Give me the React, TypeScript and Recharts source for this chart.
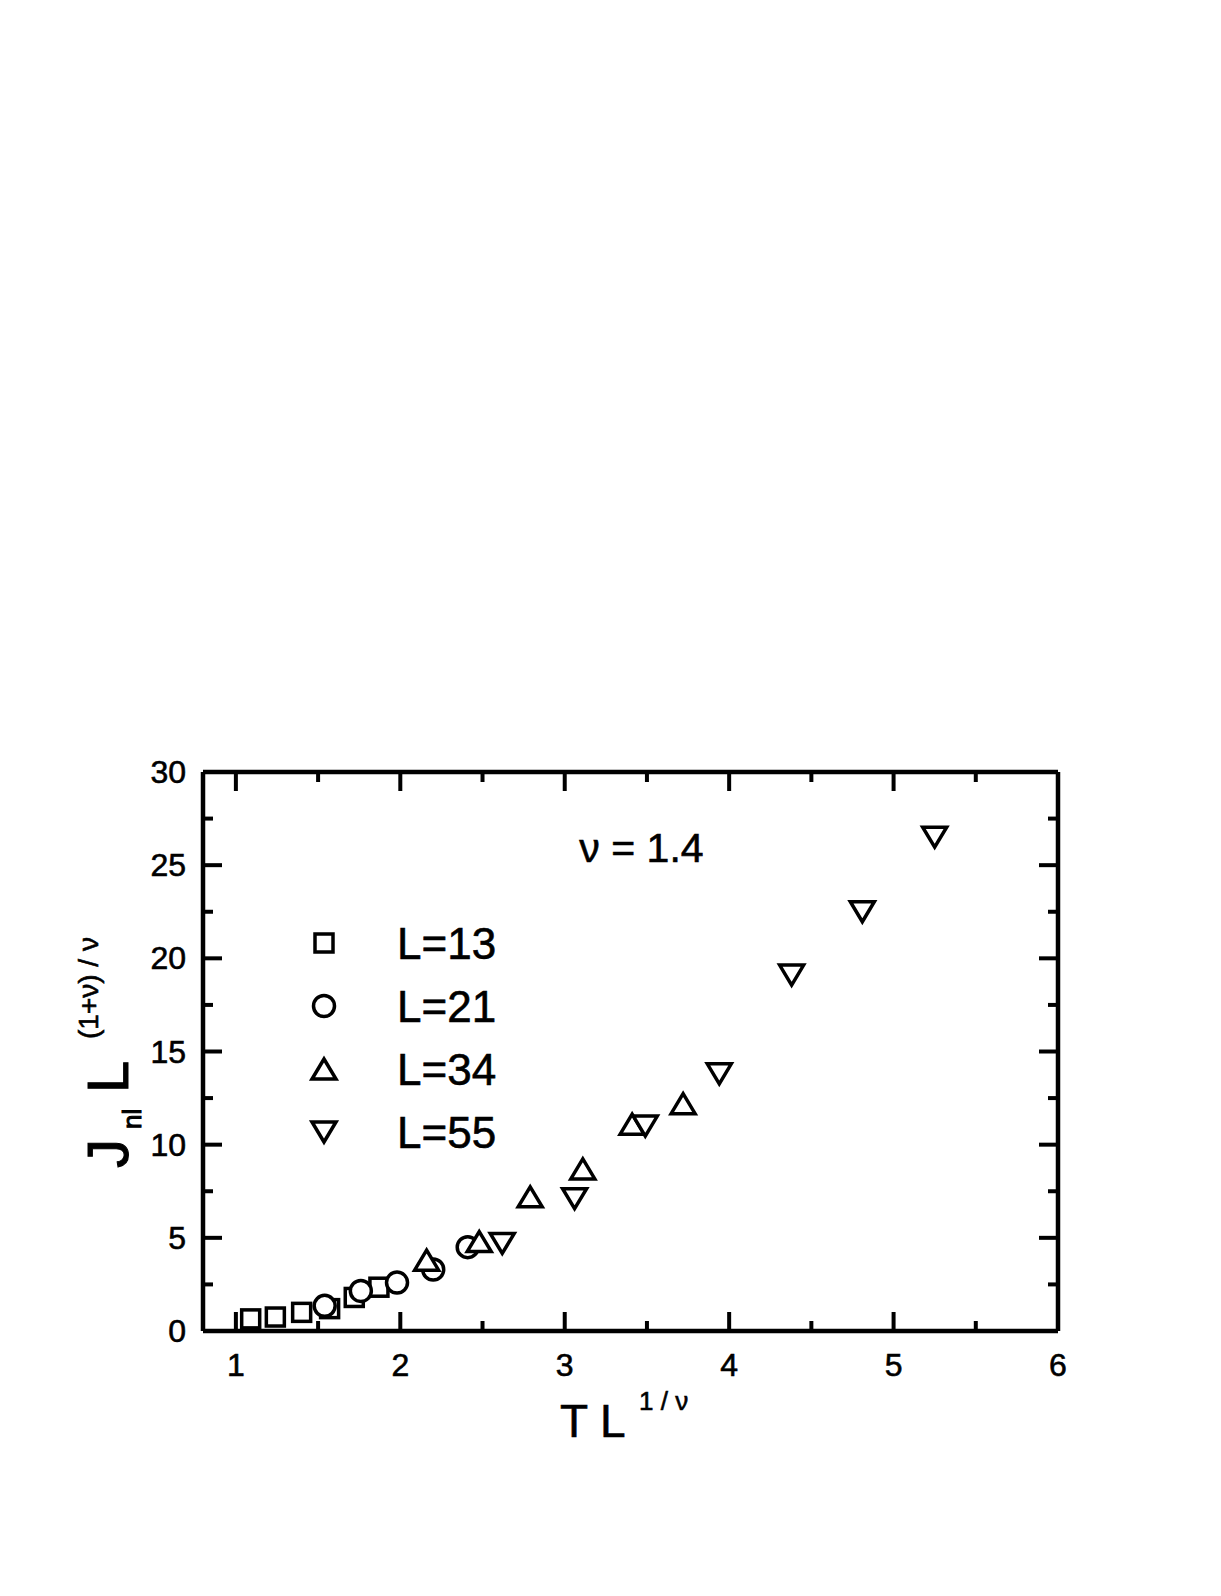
import { Legend, ReferenceDot, Scatter, ScatterChart, XAxis, YAxis } from 'recharts'

// T L^(1/nu) and Jnl L^((1+nu)/nu) for each system size
const L13_X = [1.09, 1.24, 1.4, 1.57, 1.72, 1.87]
const L13_Y = [0.65, 0.75, 1.0, 1.2, 1.8, 2.35]
const L21_X = [1.54, 1.76, 1.98, 2.2, 2.41]
const L21_Y = [1.35, 2.15, 2.6, 3.3, 4.5]
const L34_X = [2.16, 2.48, 2.79, 3.11, 3.41, 3.72]
const L34_Y = [3.8, 4.8, 7.2, 8.7, 11.1, 12.2]
const L55_X = [2.62, 3.06, 3.49, 3.94, 4.38, 4.81, 5.25]
const L55_Y = [4.7, 7.1, 11.0, 13.8, 19.1, 22.5, 26.5]

const X_TICKS = [1, 1.5, 2, 2.5, 3, 3.5, 4, 4.5, 5, 5.5, 6]
const Y_TICKS = [0, 2.5, 5, 7.5, 10, 12.5, 15, 17.5, 20, 22.5, 25, 27.5, 30]

const FONT = '"Liberation Sans", Arial, sans-serif'
// plot box size, used to mirror ticks on the top and right frame
const PLOT_W = 855
const PLOT_H = 559
const MARK_W = 3.5

const toPoints = (xs: number[], ys: number[]) => xs.map((x, i) => ({ x, y: ys[i] }))

const Square = ({ cx, cy }: any) => (
  <rect x={cx - 9} y={cy - 9} width={18} height={18} fill="#fff" stroke="#000" strokeWidth={MARK_W} />
)
const Circle = ({ cx, cy }: any) => (
  <circle cx={cx} cy={cy} r={10.5} fill="#fff" stroke="#000" strokeWidth={MARK_W} />
)
const TriUp = ({ cx, cy }: any) => (
  <polygon
    points={`${cx},${cy - 10} ${cx + 12},${cy + 10} ${cx - 12},${cy + 10}`}
    fill="#fff"
    stroke="#000"
    strokeWidth={MARK_W}
  />
)
const TriDown = ({ cx, cy }: any) => (
  <polygon
    points={`${cx - 12},${cy - 10} ${cx + 12},${cy - 10} ${cx},${cy + 10}`}
    fill="#fff"
    stroke="#000"
    strokeWidth={MARK_W}
  />
)

const SERIES = [
  { name: 'L=13', data: toPoints(L13_X, L13_Y), Shape: Square },
  { name: 'L=21', data: toPoints(L21_X, L21_Y), Shape: Circle },
  { name: 'L=34', data: toPoints(L34_X, L34_Y), Shape: TriUp },
  { name: 'L=55', data: toPoints(L55_X, L55_Y), Shape: TriDown },
]

const isInt = (v: number) => Math.abs(v - Math.round(v)) < 1e-6
const isFive = (v: number) => Math.abs(v / 5 - Math.round(v / 5)) < 1e-6

const textProps = { fontFamily: FONT, fill: '#000', stroke: '#000', strokeWidth: 0.6 }

const BottomTick = ({ x, y, payload }: any) => {
  const len = isInt(payload.value) ? 19 : 10
  const top = y - PLOT_H
  return (
    <g>
      <line x1={x} x2={x} y1={y} y2={y - len} stroke="#000" strokeWidth={4} />
      <line x1={x} x2={x} y1={top} y2={top + len} stroke="#000" strokeWidth={4} />
      {isInt(payload.value) && (
        <text x={x} y={y + 45} textAnchor="middle" fontSize={32} {...textProps}>
          {payload.value}
        </text>
      )}
    </g>
  )
}
const LeftTick = ({ x, y, payload }: any) => {
  const len = isFive(payload.value) ? 19 : 10
  const right = x + PLOT_W
  return (
    <g>
      <line x1={x} x2={x + len} y1={y} y2={y} stroke="#000" strokeWidth={4} />
      <line x1={right} x2={right - len} y1={y} y2={y} stroke="#000" strokeWidth={4} />
      {isFive(payload.value) && (
        <text x={x - 17} y={y + 11} textAnchor="end" fontSize={32} {...textProps}>
          {payload.value}
        </text>
      )}
    </g>
  )
}

const LegendBox = () => (
  <svg width={260} height={250}>
    {SERIES.map((s, i) => {
      const cy = 33 + i * 63
      return (
        <g key={s.name}>
          <s.Shape cx={34} cy={cy} />
          <text x={107} y={cy + 16} fontSize={44} {...textProps}>
            {s.name}
          </text>
        </g>
      )
    })}
  </svg>
)

const XLabel = () => (
  <text x={560} y={1437} fontSize={46} {...textProps}>
    T L
    <tspan x={639} y={1410} fontSize={26}>
      1 / ν
    </tspan>
  </text>
)

const YLabel = () => (
  <text x={128} y={1168} transform="rotate(-90, 128, 1168)" fontSize={58} {...textProps} strokeWidth={1}>
    J
    <tspan x={167} y={1181} fontSize={26}>
      nl
    </tspan>
    <tspan x={203} y={1168} fontSize={58}>
      L
    </tspan>
    <tspan x={257} y={1138} fontSize={28} strokeWidth={0.6}>
      (1+ν) / ν
    </tspan>
  </text>
)

const NuLabel = ({ viewBox }: any) => (
  <text x={viewBox.x + viewBox.width / 2} y={viewBox.y + viewBox.height / 2} fontSize={41} {...textProps}>
    ν = 1.4
  </text>
)

export default function App() {
  return (
    <div style={{ position: 'absolute', left: 0, top: 0, background: '#fff' }}>
      <ScatterChart width={1221} height={1596} margin={{ top: 762, right: 153, bottom: 165, left: 103 }}>
        <XAxis
          dataKey="x"
          type="number"
          domain={[0.8, 6]}
          ticks={X_TICKS}
          interval={0}
          height={100}
          tickSize={0}
          tickMargin={0}
          tick={BottomTick}
          axisLine={{ stroke: '#000', strokeWidth: 4.5 }}
          label={{ content: XLabel }}
        />
        <XAxis
          xAxisId="top"
          orientation="top"
          type="number"
          domain={[0.8, 6]}
          height={10}
          tick={false}
          tickLine={false}
          axisLine={{ stroke: '#000', strokeWidth: 4.5 }}
        />
        <YAxis
          dataKey="y"
          type="number"
          domain={[0, 30]}
          ticks={Y_TICKS}
          interval={0}
          width={100}
          tickSize={0}
          tickMargin={0}
          tick={LeftTick}
          axisLine={{ stroke: '#000', strokeWidth: 4.5 }}
          label={{ content: YLabel }}
        />
        <YAxis
          yAxisId="right"
          orientation="right"
          type="number"
          domain={[0, 30]}
          width={10}
          tick={false}
          tickLine={false}
          axisLine={{ stroke: '#000', strokeWidth: 4.5 }}
        />
        <ReferenceDot x={3.089} y={25.17} r={1} fill="none" stroke="none" label={{ content: NuLabel }} />
        {SERIES.map((s) => (
          <Scatter key={s.name} name={s.name} data={s.data} shape={s.Shape} isAnimationActive={false} />
        ))}
        <Legend
          layout="vertical"
          align="center"
          verticalAlign="middle"
          content={LegendBox}
          wrapperStyle={{ left: 290, top: 910, width: 260 }}
        />
      </ScatterChart>
    </div>
  )
}
